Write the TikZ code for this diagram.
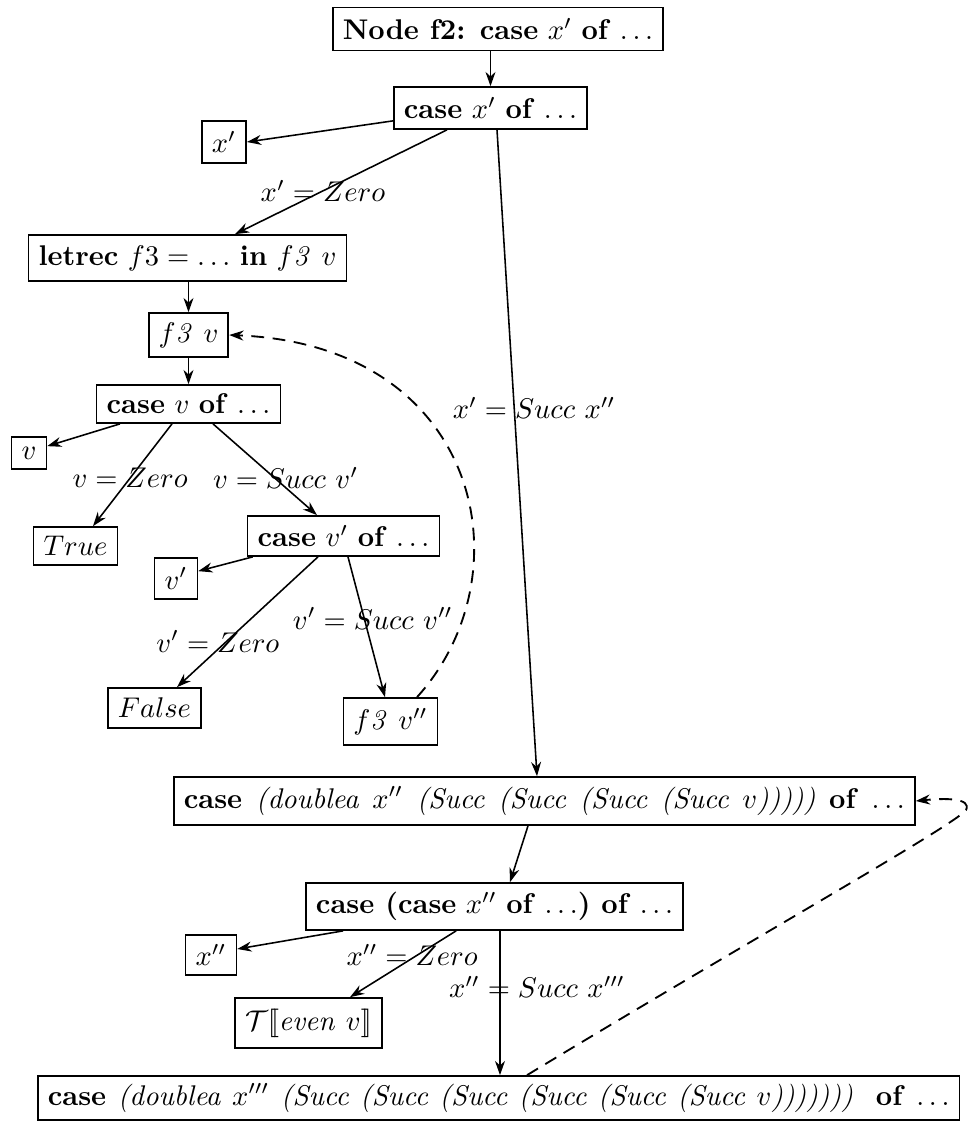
\documentclass[tikz,border=0pt]{standalone}
\usetikzlibrary{arrows.meta,calc}
\newcommand\pxu{0.351pt}
\begin{document}
\begin{tikzpicture}[x=\pxu, y=-\pxu,
  bx/.style={draw, line width=0.6pt, inner xsep=3.5pt, inner ysep=2pt},
  lab/.style={inner sep=1pt},
  ar/.style={-{Stealth[length=5pt,width=3.5pt]}, line width=0.55pt},
  da/.style={ar, dash pattern=on 4.5pt off 3pt, line width=0.65pt}]
\useasboundingbox (0,0) rectangle (971,1125);

\node[bx, minimum height=43*\pxu] (f2) at (498,29) {\textbf{Node f2: case} $x'$ \textbf{of} $\ldots$};
\node[bx, minimum height=42*\pxu] (cx) at (490.5,108) {\textbf{case} $x'$ \textbf{of} $\ldots$};
\node[bx, minimum height=42*\pxu] (xp) at (224,142) {$x'$};
\node[bx, minimum height=46*\pxu] (lr) at (187.5,258) {\textbf{letrec} $f3 = \ldots$\ \textbf{in} $f\mathit{3}\ v$};
\node[bx, minimum height=44*\pxu] (fv) at (188.5,335) {$f\mathit{3}\ v$};
\node[bx, minimum height=38*\pxu] (cv) at (188.5,404) {\textbf{case} $v$ \textbf{of} $\ldots$};
\node[bx, minimum height=32*\pxu] (vb) at (29,453) {$v$};
\node[bx, minimum height=38*\pxu] (tr) at (75.5,546) {$True$};
\node[bx, minimum height=40*\pxu] (cvp) at (343.5,536) {\textbf{case} $v'$ \textbf{of} $\ldots$};
\node[bx, minimum height=41*\pxu] (vpb) at (176,578.5) {$v'$};
\node[bx, minimum height=40*\pxu] (fa) at (154.5,708) {$False$};
\node[bx, minimum height=47*\pxu] (fvpp) at (390.5,721.5) {$f\mathit{3}\ v''$};
\node[bx, minimum height=48*\pxu, anchor=west] (cd) at (173,801) {\spaceskip=4.8pt\relax\textbf{case} \textit{(doublea $x''$ (Succ (Succ (Succ (Succ $v$)))))} \textbf{of} $\ldots$};
\node[bx, minimum height=47*\pxu] (cc) at (494.5,906.5) {\textbf{case (case} $x''$ \textbf{of} $\ldots$\textbf{) of} $\ldots$};
\node[bx, minimum height=40*\pxu] (xpp) at (211,955) {$x''$};
\node[bx, minimum height=50*\pxu] (tb) at (308.5,1023) {$\mathcal{T}[\![\mathit{even}\ v]\!]$};
\node[bx, minimum height=44*\pxu, anchor=west] (bt) at (37,1098) {\spaceskip=4.05pt\relax\textbf{case} \textit{(doublea $x'''$ (Succ (Succ (Succ (Succ (Succ (Succ $v$)))))))}\ \ \textbf{of} $\ldots$};

\draw[ar] (f2.south -| cx.north) -- (cx.north);
\draw[ar] ($(cx.south west)+(0,-9)$) -- (xp.east);
\draw[ar] ($(cx.south)+(-43.5,0)$) -- node[lab,pos=0.585]{$x' = Zero$} ($(lr.north)+(47.5,0)$);
\draw[ar] ($(cx.south)+(6.5,0)$) -- node[lab,pos=0.43,xshift=7pt]{$x' = Succ\ x''$} ($(cd.north west)+(364,0)$);
\draw[ar] (fv.north |- lr.south) -- (fv.north);
\draw[ar] (fv.south) -- (cv.north);
\draw[ar] ($(cv.south)+(-68.5,0)$) -- ($(vb.north east)+(0,10)$);
\draw[ar] ($(cv.south)+(-16.5,0)$) -- node[lab,pos=0.53]{$v = Zero$} ($(tr.north)+(17.5,0)$);
\draw[ar] ($(cv.south)+(24.5,0)$) -- node[lab,pos=0.59,xshift=4pt]{$v = Succ\ v'$} ($(cvp.north)+(-26.5,0)$);
\draw[ar] ($(cvp.south west)+(6,0)$) -- ($(vpb.north east)+(0,14)$);
\draw[ar] ($(cvp.south)+(-25.5,0)$) -- node[lab,pos=0.65,xshift=-3pt]{$v' = Zero$} ($(fa.north)+(22.5,0)$);
\draw[ar] ($(cvp.south)+(4.5,0)$) -- node[lab,pos=0.44,xshift=3pt]{$v' = Succ\ v''$} ($(fvpp.north)+(-5.5,0)$);
\draw[da] ($(fvpp.north)+(26.5,0)$) .. controls (528,575) and (482,345) .. (fv.east);
\draw[ar] ($(cd.south west)+(355,0)$) -- ($(cc.north)+(15.5,0)$);
\draw[ar] ($(cc.south west)+(38,0)$) -- ($(xpp.east)+(0,-6)$);
\draw[ar] ($(cc.south west)+(151,0)$) -- node[lab,pos=0.36,xshift=-2pt]{$x'' = Zero$} ($(tb.north)+(41.5,0)$);
\coordinate (ccb) at ($(cc.south)+(5.5,0)$);
\draw[ar] (ccb) -- node[lab,pos=0.39,xshift=13pt]{$x'' = Succ\ x'''$} (ccb |- bt.north);
\coordinate (hk) at (966,810);
\draw[da] ($(bt.north west)+(490,0)$) .. controls (750,940) and (955,825) .. (hk)
  .. controls (972,798) and (945,798) .. (cd.east);
\end{tikzpicture}
\end{document}
